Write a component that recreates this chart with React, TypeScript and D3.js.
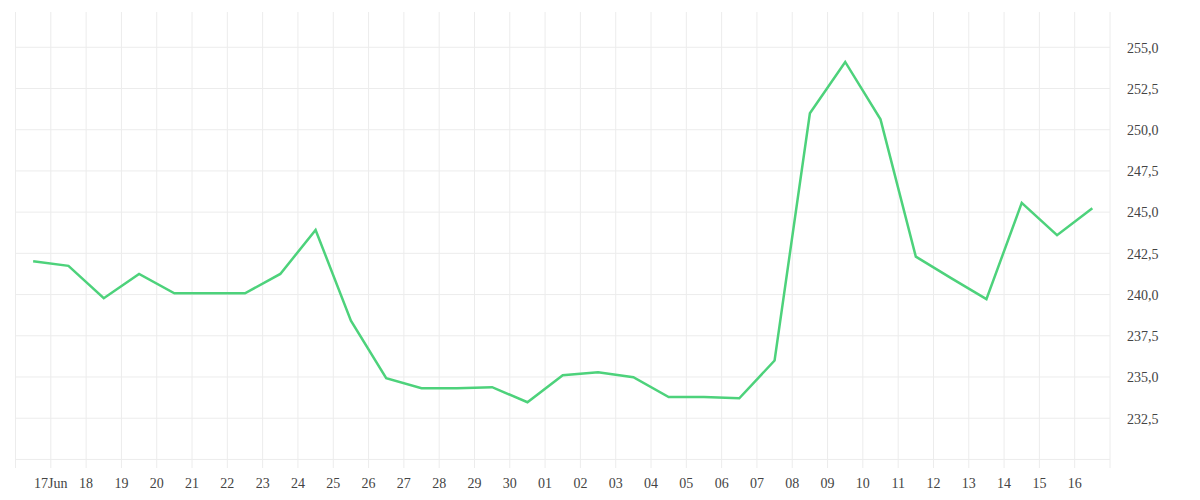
import { useEffect, useRef } from "react";
import * as d3 from "d3";

// daily closing values, one per day at midday, 16 Jun -> 16 Jul
const startDay = "2024-06-16";
const values = [
  242.02, 241.74, 239.78, 241.25, 240.08, 240.08, 240.08, 241.25, 243.92,
  238.42, 234.93, 234.32, 234.32, 234.38, 233.47, 235.11, 235.29, 234.99,
  233.78, 233.78, 233.71, 236.0, 251.0, 254.11, 250.63, 242.3, 241.0, 239.72,
  245.56, 243.6, 245.24,
];
const yTicks = [230, 232.5, 235, 237.5, 240, 242.5, 245, 247.5, 250, 252.5, 255];
const yDomain: [number, number] = [229.48, 257.14];

type Point = { day: Date; value: number };

export default function App() {
  const svgRef = useRef<SVGSVGElement | null>(null);

  useEffect(() => {
    const svg = d3.select(svgRef.current);
    svg.selectAll("*").remove();

    const W = 1200;
    const H = 500;
    const margin = { top: 12, right: 90, bottom: 32, left: 15.5 };
    const w = W - margin.left - margin.right;
    const h = H - margin.top - margin.bottom;

    const parse = d3.timeParse("%Y-%m-%d");
    const d0 = parse(startDay) as Date;
    const points: Point[] = values.map((v, i) => ({
      day: d3.timeHour.offset(d3.timeDay.offset(d0, i), 12),
      value: v,
    }));
    const d1 = d3.timeDay.offset(d0, values.length);

    const x = d3.scaleTime().domain([d0, d1]).range([0, w]);
    const y = d3.scaleLinear().domain(yDomain).range([h, 0]);

    const g = svg
      .attr("viewBox", `0 0 ${W} ${H}`)
      .append("g")
      .attr("transform", `translate(${margin.left},${margin.top})`);

    const grid = "#ececec";
    const text = "#444";

    // vertical day grid
    g.append("g")
      .selectAll("line")
      .data(d3.timeDay.range(d0, d3.timeDay.offset(d1, 1)))
      .join("line")
      .attr("x1", (d) => x(d))
      .attr("x2", (d) => x(d))
      .attr("y1", 0)
      .attr("y2", h)
      .attr("stroke", grid)
      .attr("stroke-width", 1);

    // horizontal value grid
    g.append("g")
      .selectAll("line")
      .data(yTicks)
      .join("line")
      .attr("x1", 0)
      .attr("x2", w)
      .attr("y1", (d) => y(d))
      .attr("y2", (d) => y(d))
      .attr("stroke", grid)
      .attr("stroke-width", 1);

    // right labels (first tick has none)
    const fmtY = (v: number) => d3.format(".1f")(v).replace(".", ",");
    g.append("g")
      .selectAll("text")
      .data(yTicks.slice(1))
      .join("text")
      .attr("x", w + 17)
      .attr("y", (d) => y(d))
      .attr("dy", "0.38em")
      .attr("fill", text)
      .attr("font-size", 14)
      .text(fmtY);

    // bottom day labels
    const labelDays = d3.timeDay.range(d3.timeDay.offset(d0, 1), d1);
    g.append("g")
      .selectAll("text")
      .data(labelDays)
      .join("text")
      .attr("x", (d) => x(d))
      .attr("y", h + 15)
      .attr("dy", "0.38em")
      .attr("text-anchor", "middle")
      .attr("fill", text)
      .attr("font-size", 14)
      .text((d, i) =>
        i === 0 ? d3.timeFormat("%d%b")(d) : d3.timeFormat("%d")(d),
      );

    const line = d3
      .line<Point>()
      .x((p) => x(p.day))
      .y((p) => y(p.value));

    g.append("path")
      .datum(points)
      .attr("d", line)
      .attr("fill", "none")
      .attr("stroke", "#4dd27b")
      .attr("stroke-width", 2.5)
      .attr("stroke-linejoin", "miter");
  }, []);

  return (
    <svg
      ref={svgRef}
      width={1200}
      height={500}
      style={{
        position: "absolute",
        left: 0,
        top: 0,
        fontFamily: "'Liberation Serif', serif",
        background: "#fff",
      }}
    />
  );
}
